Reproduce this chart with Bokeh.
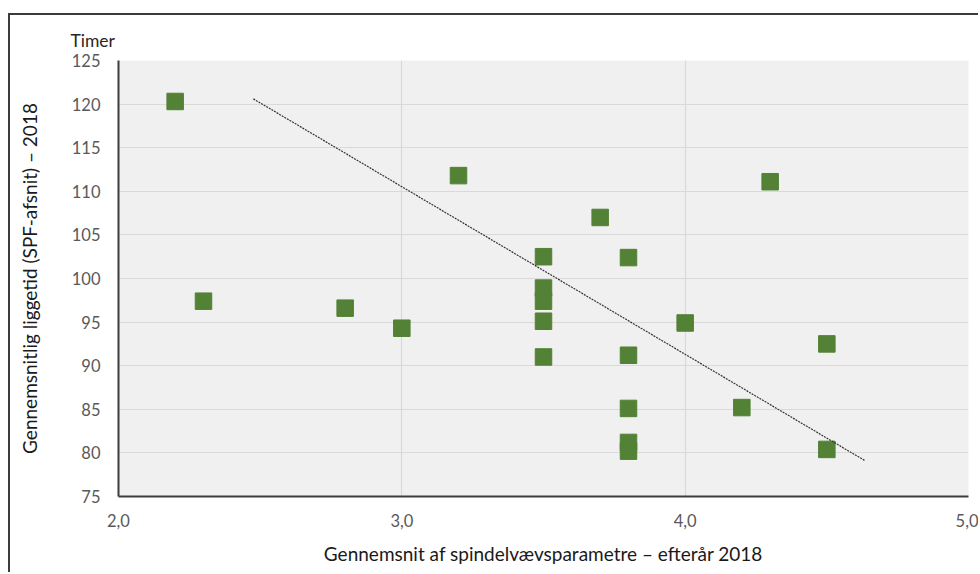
from bokeh.plotting import figure
from bokeh.models import ColumnDataSource, FixedTicker
from bokeh.embed import file_html
from bokeh.resources import INLINE

# ---- data ----
spindel_x = [2.2, 2.3, 2.8, 3.0, 3.2, 3.5, 3.5, 3.5, 3.5, 3.5, 3.7,
             3.8, 3.8, 3.8, 3.8, 3.8, 4.0, 4.2, 4.3, 4.5, 4.5]
liggetid_y = [120.3, 97.4, 96.6, 94.3, 111.8, 102.5, 98.9, 97.4, 95.1, 91.0, 107.0,
              102.4, 91.2, 85.1, 81.2, 80.2, 94.9, 85.2, 111.1, 92.5, 80.4]
trend_x = [2.476, 4.635]
trend_y = [120.6, 79.1]
x_ticks = [2, 3, 4, 5]
x_tick_labels = ["2,0", "3,0", "4,0", "5,0"]
y_ticks = [75, 80, 85, 90, 95, 100, 105, 110, 115, 120, 125]
x_title = "Gennemsnit af spindelvævsparametre – efterår 2018"
y_title = "Gennemsnitlig liggetid (SPF-afsnit) – 2018"
unit_label = "Timer"

FONT = "Lato"

p = figure(width=970, height=559, x_range=(2, 5), y_range=(75, 125),
           output_backend="svg", toolbar_location=None,
           min_border_left=108, min_border_right=12,
           min_border_top=45, min_border_bottom=78)
p.styles = {"border-top": "2px solid #3c3c3c", "border-left": "2px solid #3c3c3c",
            "margin-top": "13px", "margin-left": "8px"}

p.background_fill_color = "#f0f0f0"
p.border_fill_color = "white"
p.outline_line_color = None

# unit label as title, placed above the y axis
p.title.text = unit_label
p.title.align = "left"
p.title.offset = -48
p.title.standoff = 19
p.title.text_font = FONT
p.title.text_font_size = "17.5px"
p.title.text_font_style = "normal"
p.title.text_color = "#262626"

# grid
p.xgrid.grid_line_color = "#d9d9d9"
p.ygrid.grid_line_color = "#d9d9d9"
p.xgrid.grid_line_width = 1.2
p.ygrid.grid_line_width = 1.2

# axes
p.xaxis.ticker = FixedTicker(ticks=x_ticks)
p.xaxis.major_label_overrides = {t: l for t, l in zip(x_ticks, x_tick_labels)}
p.yaxis.ticker = FixedTicker(ticks=y_ticks)
for ax in (p.xaxis[0], p.yaxis[0]):
    ax.axis_line_color = "#3c3c3c"
    ax.axis_line_width = 2
    ax.major_tick_line_color = None
    ax.minor_tick_line_color = None
    ax.major_tick_out = 0
    ax.major_tick_in = 0
    ax.major_label_text_font = FONT
    ax.major_label_text_font_size = "16.5px"
    ax.major_label_text_color = "#595959"
    ax.axis_label_text_font = FONT
    ax.axis_label_text_font_size = "19px"
    ax.axis_label_text_font_style = "normal"
    ax.axis_label_text_color = "#1a1a1a"

p.xaxis.major_label_standoff = 17
p.xaxis.axis_label = x_title
p.xaxis.axis_label_standoff = 12
p.yaxis.major_label_standoff = 18
p.yaxis.axis_label = y_title
p.yaxis.axis_label_standoff = 28

# points
src = ColumnDataSource(dict(x=spindel_x, y=liggetid_y))
p.scatter("x", "y", source=src, marker="square", size=16.5,
          fill_color="#538135", line_color="#538135")

# trend line
p.line(trend_x, trend_y, line_color="#333333", line_width=1.2, line_dash="2 1")

open("out.html", "w").write(file_html(p, INLINE))
